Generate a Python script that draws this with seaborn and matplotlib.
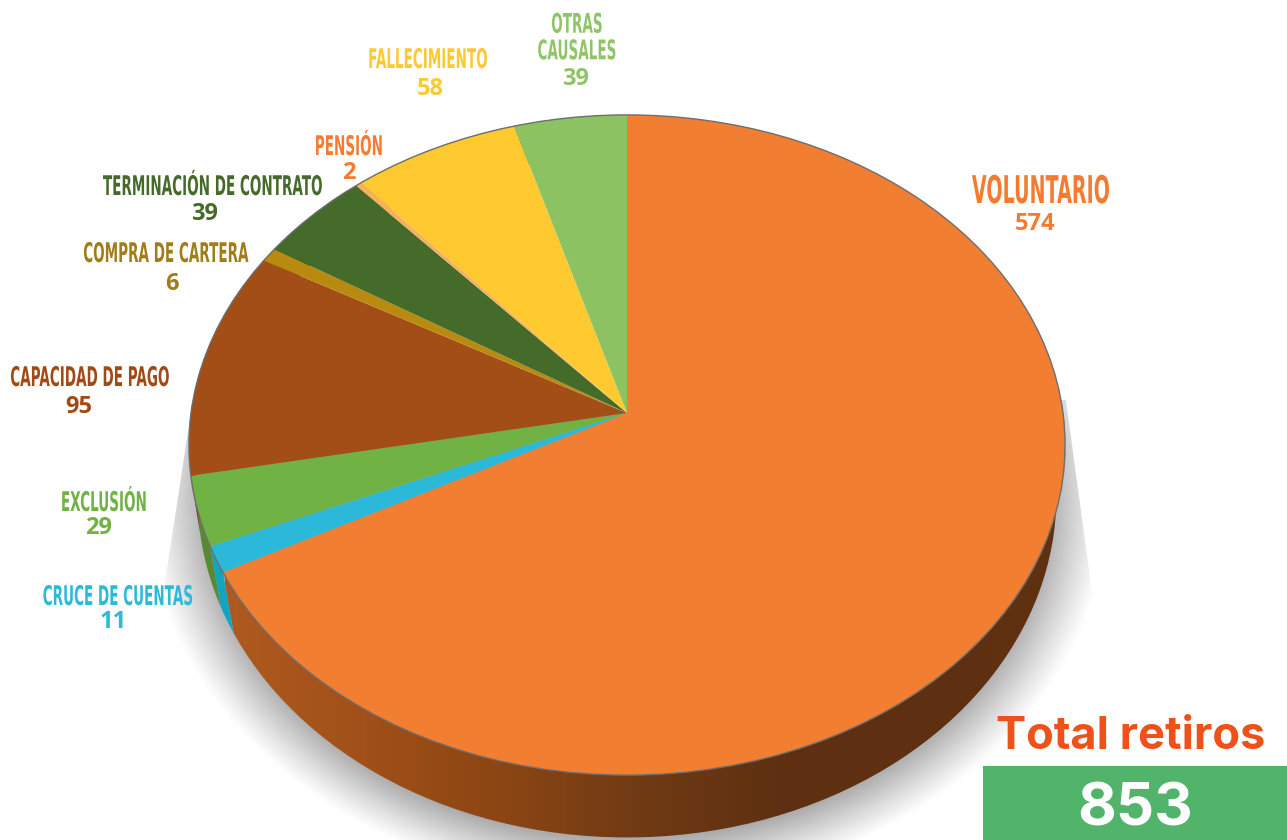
import numpy as np
import seaborn as sns
import matplotlib
matplotlib.use("Agg")
import matplotlib.pyplot as plt
import matplotlib.patheffects as pe
from matplotlib import transforms as mtransforms
from matplotlib.colors import LinearSegmentedColormap
from matplotlib.patches import Circle, Polygon, Rectangle
from matplotlib.text import Text

# datos del grafico
causales = ["VOLUNTARIO", "CRUCE DE CUENTAS", "EXCLUSIÓN", "CAPACIDAD DE PAGO", "COMPRA DE CARTERA",
            "TERMINACIÓN DE CONTRATO", "PENSIÓN", "FALLECIMIENTO", "OTRAS\nCAUSALES"]
retiros = [574, 11, 29, 95, 6, 39, 2, 58, 39]
total = 853

colores_top = ["#F27E31", "#2CB8D8", "#71B244", "#A24E16", "#B88A10", "#456B2B", "#F6B060", "#FFCA30", "#8DC263"]
colores_pared = ["#8B4513", "#12A5C0", "#5A8A30", "#7A3A10", "#8A680C", "#33501F", "#B87A5A", "#BF9724", "#6A924A"]
colores_texto = ["#F47B30", "#2DBAD9", "#70B244", "#A04A15", "#A07D18", "#466A2A", "#F47B30", "#FFC92F", "#8FC467"]

# posicion de cada rotulo en pixeles
rotulos_x = [1041, 118, 104, 90, 166, 213, 349, 428, 577]
rotulos_y = [193, 598, 504, 379, 255, 188, 148, 61, 39]
numeros_x = [1035, 113, 99, 79, 172, 205, 349, 430, 576]
numeros_y = [224, 622, 528, 407, 284, 214, 173, 89, 79]


class Perspectiva(mtransforms.Transform):
    # lleva el circulo unidad a la elipse en perspectiva
    input_dims = 2
    output_dims = 2
    is_separable = False
    has_inverse = False

    def __init__(self, cx, cy, a, b, k):
        super().__init__()
        self.cx, self.cy, self.a, self.b, self.k = cx, cy, a, b, k

    def transform_non_affine(self, values):
        values = np.asarray(values, dtype=float)
        w = 1 + self.k * values[:, 1]
        return np.column_stack([self.cx + self.a * values[:, 0] / w,
                                self.cy - self.b * values[:, 1] / w])


class Estrecho(pe.AbstractPathEffect):
    # no hay fuente condensada instalada: se angosta el texto alrededor de su centro
    def __init__(self, cx, escala):
        super().__init__()
        self.cx = cx
        self.escala = escala

    def draw_path(self, renderer, gc, tpath, affine, rgbFace=None):
        angosto = mtransforms.Affine2D().translate(-self.cx, 0).scale(self.escala, 1).translate(self.cx, 0)
        renderer.draw_path(gc, tpath, affine + angosto, rgbFace)


class TextoEstrecho(Text):
    # texto angosto cuya caja medida coincide con lo que se dibuja
    escala = 0.5

    def draw(self, renderer):
        self.set_path_effects([Estrecho(self.get_transform().transform(self.get_position())[0], self.escala)])
        super().draw(renderer)

    def get_window_extent(self, renderer=None, dpi=None):
        caja = super().get_window_extent(renderer, dpi)
        cx = self.get_transform().transform(self.get_position())[0]
        return mtransforms.Bbox.from_extents(cx + (caja.x0 - cx) * self.escala, caja.y0,
                                             cx + (caja.x1 - cx) * self.escala, caja.y1)


sns.set_theme(style="white")
plt.rcParams["font.family"] = ["DejaVu Sans"]

fig = plt.figure(figsize=(12.87, 8.40), dpi=100)
ax = fig.add_axes([0, 0, 1, 1])

tapa = Perspectiva(627, 413, 436, 327, 0.097)
base = Perspectiva(627, 469, 428, 339, 0.08)

# sombra
gx, gy = np.meshgrid(np.arange(0, 1287, 2), np.arange(0, 840, 2))
rho = np.sqrt(((gx - 627) / 482) ** 2 + ((gy - 500) / 388) ** 2)
sombra = np.clip((1 - rho) / 0.14, 0, 1) ** 1.1
img = np.zeros(sombra.shape + (4,))
img[..., :3] = 0.42
img[..., 3] = sombra * 0.62
im = ax.imshow(img, extent=[0, 1287, 840, 0], zorder=1, aspect="auto", interpolation="bilinear")
zona = Polygon([(189, 425), (163, 595), (80, 650), (80, 840), (1200, 840), (1200, 650), (1095, 615), (1066, 400)],
               closed=True, transform=ax.transData)
im.set_clip_path(zona)

# paredes del cilindro
angulos = np.cumsum([0] + retiros) / total * 2 * np.pi
for i in range(len(retiros)):
    t = np.linspace(angulos[i], angulos[i + 1], 120)
    arco = np.column_stack([np.sin(t), np.cos(t)])
    arriba = tapa.transform_non_affine(arco)
    abajo = base.transform_non_affine(arco)
    pared = Polygon(np.vstack([arriba, abajo[::-1]]), closed=True, transform=ax.transData)
    if i == 0:
        cmap = LinearSegmentedColormap.from_list("pared", ["#AE5A20", "#A05018", "#8B4513", "#6F3A14", "#5E3011", "#5E3011", "#603212"])
        grad = ax.imshow(np.linspace(0, 1, 256).reshape(1, -1), cmap=cmap, extent=[225, 1065, 840, 400],
                         zorder=2, aspect="auto")
        grad.set_clip_path(pared)
    else:
        pared.set_facecolor(colores_pared[i])
        pared.set_edgecolor("none")
        pared.set_zorder(2)
        ax.add_patch(pared)

# tapa del pie
paleta = sns.color_palette(colores_top)
wedges, _ = ax.pie(retiros, colors=paleta, startangle=90, counterclock=False, radius=1)
for w in wedges:
    w.set_transform(tapa + ax.transData)
    w.set_edgecolor("none")
    w.set_zorder(3)
    w.set_clip_on(False)
borde = Circle((0, 0), 1, fill=False, edgecolor="#6E6E6E", linewidth=1.0, zorder=4,
               transform=tapa + ax.transData, clip_on=False)
ax.add_patch(borde)

ax.set_aspect("auto")
ax.set_xlim(0, 1287)
ax.set_ylim(840, 0)
ax.axis("off")

# rotulos
for i, nombre in enumerate(causales):
    grande = i == 0
    etiqueta = TextoEstrecho(rotulos_x[i], rotulos_y[i], nombre, color=colores_texto[i], ha="center", va="center",
                             fontsize=27.5 if grande else 19.5, fontweight="bold", linespacing=1.03, zorder=5)
    ax.add_artist(etiqueta)
    ax.text(numeros_x[i], numeros_y[i], str(retiros[i]), color=colores_texto[i], ha="center", va="center",
            fontsize=17, fontweight="bold", family="Open Sans", zorder=5)

ax.text(1131, 737, "Total retiros", color="#EE5119", ha="center", va="center", fontsize=32.5,
        fontweight="bold", family="Inter", zorder=5)
ax.add_patch(Rectangle((983, 766), 304, 74, facecolor="#52B36A", edgecolor="none", zorder=5))
ax.text(1135, 810, str(total), color="white", ha="center", va="center", fontsize=43,
        fontweight="bold", family="Inter", zorder=6)

fig.savefig("out.png", dpi=100)
